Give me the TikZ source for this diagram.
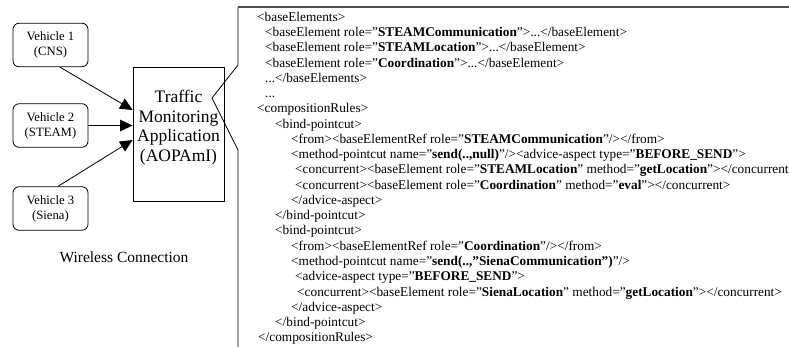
\documentclass[tikz,border=0pt]{standalone}
\usepackage{fontspec}
\setmainfont{Liberation Serif}
\usetikzlibrary{arrows.meta,calc}
\begin{document}
\begin{tikzpicture}[x=1pt,y=-1pt,
  vbox/.style={draw, rounded corners=6pt, minimum width=75pt, minimum height=43.5pt, inner sep=0pt, align=center, font=\fontsize{12.7}{15}\selectfont, line width=0.8pt},
  tbox/.style={draw, minimum width=91pt, minimum height=134pt, inner sep=0pt, line width=0.8pt},
  ttext/.style={align=center, font=\fontsize{17.5}{19.5}\selectfont, inner sep=0pt},
  xml/.style={anchor=base west, inner sep=0pt, font=\fontsize{13.3}{15}\selectfont},
  arr/.style={-{Triangle[length=12.5pt,width=11.5pt]}, line width=0.8pt},
  frame/.style={line width=0.8pt},
  topline/.style={line width=2pt, black!70},
]
\useasboundingbox (0,0) rectangle (789,347);
\begin{scope}
\clip (0,0) rectangle (789,347);

% vehicles
\node[vbox] (v1) at (50.5,45) {Vehicle 1\\(CNS)};
\node[vbox] (v2) at (50.5,125.5) {Vehicle 2\\(STEAM)};
\node[vbox] (v3) at (50.5,208.5) {Vehicle 3\\(Siena)};

% traffic monitoring application
\node[tbox] (tm) at (178.5,134) {};
\node[ttext] (tt) at (178.5,127.5) {Traffic\\Monitoring\\Application\\(AOPAmI)};

\node[font=\fontsize{15.5}{18}\selectfont, inner sep=0pt] (wc) at (124,257) {Wireless Connection};

% arrows
\draw[arr] ([xshift=9.5pt]v1.south) -- ([yshift=24pt]tm.west);
\draw[arr] (v2.east) -- ([yshift=8.5pt]tm.west);
\draw[arr] ([xshift=7.5pt]v3.north) -- ([yshift=-6pt]tm.west);

% callout frame
\coordinate (c0) at (238,7);
\coordinate (c1) at (238,65);
\coordinate (c2) at (212,98);
\coordinate (c3) at (238,150);
\coordinate (c4) at (238,350);
\coordinate (c5) at (795,7);
\draw[frame] (c0) -- (c1) -- (c2) -- (c3) -- (c4);
\draw[topline] (c0) -- (c5);

% XML text
\node[xml] (l1) at (257,21.5) {<baseElements>};
\node[xml] (l2) at (265,36.75) {<baseElement role="\textbf{STEAMCommunication}">...</baseElement>};
\node[xml] (l3) at (265,52) {<baseElement role="\textbf{STEAMLocation}">...</baseElement>};
\node[xml] (l4) at (265,67.25) {<baseElement role="\textbf{Coordination}">...</baseElement>};
\node[xml] (l5) at (265,82.5) {...</baseElements>};
\node[xml] (l6) at (265,97.75) {...};
\node[xml] (l7) at (257,113) {<compositionRules>};
\node[xml] (l8) at (275,128.25) {<bind-pointcut>};
\node[xml] (l9) at (291,143.5) {<from><baseElementRef role="\textbf{STEAMCommunication}"/></from>};
\node[xml] (l10) at (291,158.75) {<method-pointcut name=”\textbf{send(..,null)}”/><advice-aspect type=”\textbf{BEFORE\_SEND}”>};
\node[xml] (l11) at (295,174) {<concurrent><baseElement role=”\textbf{STEAMLocation}” method=”\textbf{getLocation}”></concurrent>};
\node[xml] (l12) at (295,189.25) {<concurrent><baseElement role=”\textbf{Coordination}” method=”\textbf{eval}”></concurrent>};
\node[xml] (l13) at (291,204.5) {</advice-aspect>};
\node[xml] (l14) at (275,219.75) {</bind-pointcut>};
\node[xml] (l15) at (275,235) {<bind-pointcut>};
\node[xml] (l16) at (291,250.25) {<from><baseElementRef role="\textbf{Coordination}"/></from>};
\node[xml] (l17) at (291,265.5) {<method-pointcut name=”\textbf{send(..,”SienaCommunication”)}”/>};
\node[xml] (l18) at (295,280.75) {<advice-aspect type=”\textbf{BEFORE\_SEND}”>};
\node[xml] (l19) at (297,296) {<concurrent><baseElement role=”\textbf{SienaLocation}” method=”\textbf{getLocation}”></concurrent>};
\node[xml] (l20) at (291,311.25) {</advice-aspect>};
\node[xml] (l21) at (275,326.5) {</bind-pointcut>};
\node[xml] (l22) at (258,341.75) {</compositionRules>};
\end{scope}
\end{tikzpicture}
\end{document}
